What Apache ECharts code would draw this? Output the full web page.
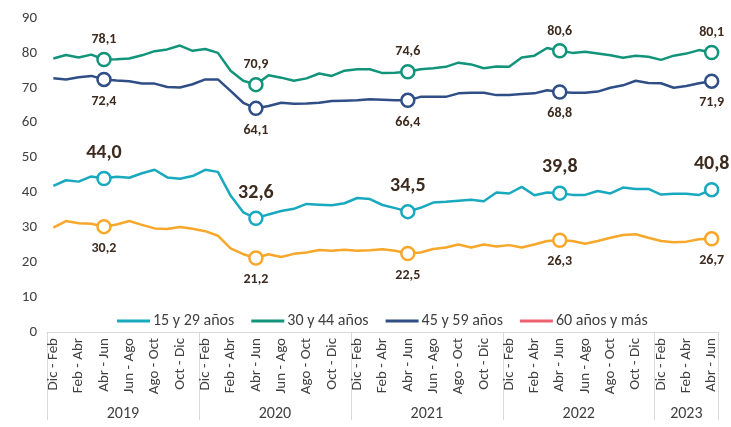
<!DOCTYPE html>
<html>
<head>
<meta charset="utf-8">
<script src="https://cdn.jsdelivr.net/npm/echarts@6/dist/echarts.min.js"></script>
<style>
  html, body { margin: 0; padding: 0; background: #fff; }
  #chart { width: 731px; height: 427px; }
</style>
</head>
<body>
<div id="chart"></div>
<script>
  // periodos trimestrales moviles
  const periodos = ['Dic - Feb', 'Ene - Mar', 'Feb - Abr', 'Mar - May', 'Abr - Jun', 'May - Jul',
    'Jun - Ago', 'Jul - Sep', 'Ago - Oct', 'Sep - Nov', 'Oct - Dic', 'Nov - Ene'];
  const anios = ['2019', '2020', '2021', '2022', '2023'];
  const mesesPorAnio = [12, 12, 12, 12, 5];

  const edad15_29 = [41.9, 43.5, 43.1, 44.6, 44.0, 44.5, 44.2, 45.5, 46.5, 44.3, 43.9, 44.7,
    46.5, 45.9, 39.1, 34.3, 32.6, 33.7, 34.7, 35.3, 36.7, 36.5, 36.3, 36.9,
    38.4, 38.1, 36.4, 35.5, 34.5, 35.6, 37.1, 37.3, 37.6, 37.9, 37.5, 40.0,
    39.7, 41.6, 39.2, 40.0, 39.8, 39.3, 39.3, 40.4, 39.7, 41.4, 41.0, 41.0,
    39.4, 39.6, 39.6, 39.3, 40.8];
  const edad30_44 = [78.4, 79.4, 78.7, 79.5, 78.1, 78.2, 78.4, 79.3, 80.5, 81.0, 82.1, 80.6,
    81.1, 80.0, 74.9, 72.0, 70.9, 73.6, 72.9, 72.0, 72.7, 74.1, 73.4, 74.9,
    75.3, 75.3, 74.2, 74.3, 74.6, 75.3, 75.6, 76.0, 77.2, 76.7, 75.6, 76.1,
    76.0, 78.7, 79.2, 81.4, 80.6, 80.0, 80.3, 79.8, 79.3, 78.6, 79.2, 78.9,
    78.0, 79.2, 79.8, 80.8, 80.1];
  const edad45_59 = [72.7, 72.4, 73.0, 73.4, 72.4, 72.1, 71.9, 71.2, 71.2, 70.2, 70.1, 71.0,
    72.4, 72.4, 69.1, 65.7, 64.1, 64.8, 65.7, 65.4, 65.5, 65.7, 66.2, 66.3,
    66.4, 66.7, 66.6, 66.4, 66.4, 67.4, 67.4, 67.4, 68.4, 68.6, 68.6, 67.9,
    67.9, 68.2, 68.4, 69.3, 68.8, 68.6, 68.6, 68.9, 70.0, 70.7, 72.0, 71.4,
    71.3, 70.0, 70.5, 71.3, 71.9];
  const edad60mas = [29.9, 31.8, 31.2, 31.0, 30.2, 30.8, 31.8, 30.7, 29.7, 29.5, 30.1, 29.6,
    28.9, 27.6, 24.0, 22.3, 21.2, 22.3, 21.5, 22.4, 22.8, 23.5, 23.3, 23.6,
    23.3, 23.4, 23.7, 23.3, 22.5, 22.8, 23.8, 24.2, 25.1, 24.2, 25.1, 24.5,
    24.9, 24.2, 25.1, 26.1, 26.3, 26.1, 25.3, 26.1, 27.0, 27.8, 28.0, 27.0,
    26.1, 25.7, 25.9, 26.6, 26.7];

  const puntosDestacados = [4, 16, 28, 40, 52];

  const categorias = [];
  const anioCategoria = [];
  const inicioAnio = [];
  const etiquetaAnio = {};
  anios.forEach((a, k) => {
    const ini = categorias.length;
    inicioAnio.push(ini);
    for (let j = 0; j < mesesPorAnio[k]; j++) {
      categorias.push(periodos[j]);
      anioCategoria.push(a);
    }
    const n = mesesPorAnio[k];
    if (n % 2 === 0) etiquetaAnio[ini + n / 2 - 1] = 'par';
    else etiquetaAnio[ini + (n - 1) / 2] = 'impar';
  });

  const fuente = 'Carlito, Calibri, Lato, sans-serif';
  const colorTexto = '#404040';
  const colorEtiqueta = '#3d2b1f';
  const colores = ['#19a9bf', '#12947b', '#2f4e86', '#f7a72a'];

  function fmt(v) { return v.toFixed(1).replace('.', ','); }

  function serie(nombre, datos, color, posicion, tam, distancia) {
    return {
      name: nombre,
      type: 'line',
      showSymbol: true,
      showAllSymbol: true,
      lineStyle: { width: 2.5, color: color },
      itemStyle: { color: '#fff', borderColor: color, borderWidth: 2.5 },
      emphasis: { disabled: true },
      data: datos.map((v, i) => puntosDestacados.includes(i)
        ? { value: v, symbol: 'circle', symbolSize: 13,
            label: { show: true, position: posicion, distance: distancia,
              formatter: p => fmt(p.value), color: colorEtiqueta,
              fontFamily: fuente, fontWeight: 'bold', fontSize: tam } }
        : { value: v, symbol: 'none' })
    };
  }

  const chart = echarts.init(document.getElementById('chart'));
  chart.setOption({
    animation: false,
    color: colores,
    grid: { left: 47, right: 13, top: 18, bottom: 95, containLabel: false, outerBoundsMode: 'none' },
    legend: {
      left: 112,
      top: 308,
      icon: 'rect',
      itemWidth: 33,
      itemHeight: 3,
      itemGap: 17,
      textStyle: { fontFamily: fuente, fontSize: 16, color: colorTexto, padding: [0, 0, 0, -2] },
      data: [
        { name: '15 y 29 años', itemStyle: { color: colores[0], borderWidth: 0 } },
        { name: '30 y 44 años', itemStyle: { color: colores[1], borderWidth: 0 } },
        { name: '45 y 59 años', itemStyle: { color: colores[2], borderWidth: 0 } },
        { name: '60 años y más', itemStyle: { color: '#ef6270', borderWidth: 0 } }
      ]
    },
    xAxis: [
      {
        type: 'category',
        data: categorias,
        boundaryGap: true,
        axisLine: { lineStyle: { color: '#d9d9d9', width: 1 } },
        axisTick: { show: false },
        axisLabel: {
          interval: 1, rotate: 90, margin: 6,
          fontFamily: fuente, fontSize: 15, color: colorTexto
        }
      },
      {
        type: 'category',
        data: anioCategoria,
        position: 'bottom',
        boundaryGap: true,
        axisLine: { show: false },
        axisTick: {
          show: true, length: 88,
          interval: i => inicioAnio.includes(i),
          lineStyle: { color: '#d9d9d9', width: 1 }
        },
        axisLabel: {
          margin: 74,
          interval: i => etiquetaAnio[i] !== undefined,
          formatter: (v, i) => etiquetaAnio[i] === 'par' ? '{p|' + v + '}' : '{n|' + v + '}',
          rich: {
            p: { padding: [0, 0, 0, 12.7], fontFamily: fuente, fontSize: 16, color: colorTexto },
            n: { fontFamily: fuente, fontSize: 16, color: colorTexto }
          }
        }
      }
    ],
    yAxis: {
      type: 'value',
      min: 0, max: 90, interval: 10,
      splitLine: { show: false },
      axisLine: { show: false },
      axisTick: { show: false },
      axisLabel: { margin: 10, fontFamily: fuente, fontSize: 15, color: colorTexto }
    },
    series: [
      serie('15 y 29 años', edad15_29, colores[0], 'top', 20, 8),
      serie('30 y 44 años', edad30_44, colores[1], 'top', 14, 5),
      serie('45 y 59 años', edad45_59, colores[2], 'bottom', 14, 7),
      serie('60 años y más', edad60mas, colores[3], 'bottom', 14, 7)
    ]
  });
</script>
</body>
</html>
